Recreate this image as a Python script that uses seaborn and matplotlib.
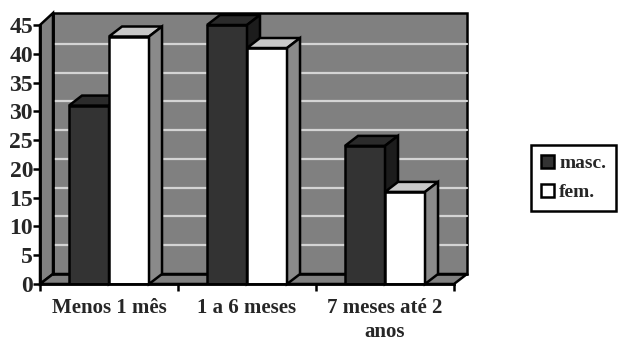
import seaborn as sns
import matplotlib.pyplot as plt
import matplotlib.transforms as mtransforms
from matplotlib.patches import Polygon, Patch
from matplotlib.lines import Line2D
import pandas as pd

categories = ["Menos 1 mês", "1 a 6 meses", "7 meses até 2\nanos"]
masc = [31, 45, 24]
fem = [43, 41, 16]
series = ["masc.", "fem."]

df = pd.DataFrame({
    "periodo": categories * 2,
    "valor": masc + fem,
    "sexo": ["masc."] * 3 + ["fem."] * 3,
})

sns.set_style("white")
plt.rcParams["font.family"] = ["Liberation Serif", "DejaVu Serif"]
plt.rcParams["font.weight"] = "bold"

fig = plt.figure(figsize=(6.18, 3.44), dpi=100)
W, H = 618, 344
ax = fig.add_axes([40 / W, (H - 284) / H, (454 - 40) / W, (284 - 25) / H])

front_col = {"masc.": "#333333", "fem.": "#ffffff"}
top_col = {"masc.": "#2b2b2b", "fem.": "#c8c8c8"}
side_col = {"masc.": "#1c1c1c", "fem.": "#8a8a8a"}

sns.barplot(data=df, x="periodo", y="valor", hue="sexo", hue_order=series,
            palette=front_col, saturation=1, width=0.58,
            edgecolor="black", linewidth=1.8, ax=ax)
ax.get_legend().remove()
ax.set_xlim(-0.5, 2.5)
ax.set_ylim(0, 45)
ax.set_yticks(range(0, 46, 5))

# depth offset in pixels (3D look)
DX, DY = 13, 10
ident = mtransforms.IdentityTransform()


def P(x, y, d):
    px, py = ax.transData.transform((x, y))
    return (px + d * DX, py + d * DY)


def poly(pts, fc, z, lw=1.8, ec="black"):
    ax.add_patch(Polygon(pts, closed=True, facecolor=fc, edgecolor=ec,
                         linewidth=lw, transform=ident, clip_on=False,
                         zorder=z, joinstyle="miter"))


x0, x1 = ax.get_xlim()
ytop = 45.35
wall = "#808080"
# back wall, left wall, floor
poly([P(x0, 0, 1), P(x1, 0, 1), P(x1, ytop, 1), P(x0, ytop, 1)], wall, 0.2)
poly([P(x0, 0, 0), P(x0, 0, 1), P(x0, ytop, 1), P(x0, 45, 0)], wall, 0.3)
poly([P(x0, 0, 0), P(x1, 0, 0), P(x1, 0, 1), P(x0, 0, 1)], wall, 0.3)

for yv in ax.get_yticks()[1:-1]:
    for a, b in [(P(x0, yv, 1), P(x1, yv, 1)), (P(x0, yv, 0), P(x0, yv, 1))]:
        ax.add_line(Line2D([a[0], b[0]], [a[1], b[1]], color="#d4d4d4",
                           linewidth=1.6, transform=ident, clip_on=False,
                           zorder=0.25))
# redraw edges of the walls
for a, b in [(P(x0, 0, 1), P(x0, ytop, 1)), (P(x0, 0, 1), P(x1, 0, 1))]:
    ax.add_line(Line2D([a[0], b[0]], [a[1], b[1]], color="black",
                       linewidth=1.8, transform=ident, clip_on=False,
                       zorder=0.4))

# 3D faces for bars
for name, cont in zip(series, ax.containers):
    z = 2 if name == "masc." else 3
    for bar in cont:
        bar.set_zorder(z)
        bx0 = bar.get_x()
        bx1 = bx0 + bar.get_width()
        h = bar.get_height()
        poly([P(bx0, h, 0), P(bx1, h, 0), P(bx1, h, 1), P(bx0, h, 1)],
             top_col[name], z)
        poly([P(bx1, 0, 0), P(bx1, h, 0), P(bx1, h, 1), P(bx1, 0, 1)],
             side_col[name], z)

for s in ["top", "right"]:
    ax.spines[s].set_visible(False)
for s in ["left", "bottom"]:
    ax.spines[s].set_color("black")
    ax.spines[s].set_linewidth(2)
    ax.spines[s].set_zorder(5)

ax.set_xlabel("")
ax.set_ylabel("")
ax.set_xticks([-0.5, 0.5, 1.5, 2.5])
ax.set_xticklabels([])
ax.set_xticks([0, 1, 2], minor=True)
ax.set_xticklabels(categories, minor=True, fontsize=15, fontweight="bold",
                   linespacing=1.3)
ax.tick_params(axis="x", which="major", direction="out", length=5,
               width=1.8, bottom=True, color="black")
ax.tick_params(axis="x", which="minor", length=0, pad=10)
ax.tick_params(axis="y", direction="out", length=5, width=1.8, left=True,
               color="black", labelsize=17, pad=0)
for t in ax.get_yticklabels():
    t.set_fontweight("bold")

handles = [Patch(facecolor=front_col[s], edgecolor="black", linewidth=1.8)
           for s in series]
leg = fig.legend(handles, series, loc="center right",
                 bbox_to_anchor=(616 / W, (H - 178) / H),
                 frameon=True, fancybox=False, edgecolor="black",
                 framealpha=1, handlelength=0.7, handleheight=0.7,
                 handletextpad=0.25, borderpad=0.5, labelspacing=0.6,
                 borderaxespad=0,
                 prop={"family": "Liberation Serif", "weight": "bold",
                       "size": 14})
leg.get_frame().set_linewidth(1.8)

fig.savefig("out.png", dpi=100)
